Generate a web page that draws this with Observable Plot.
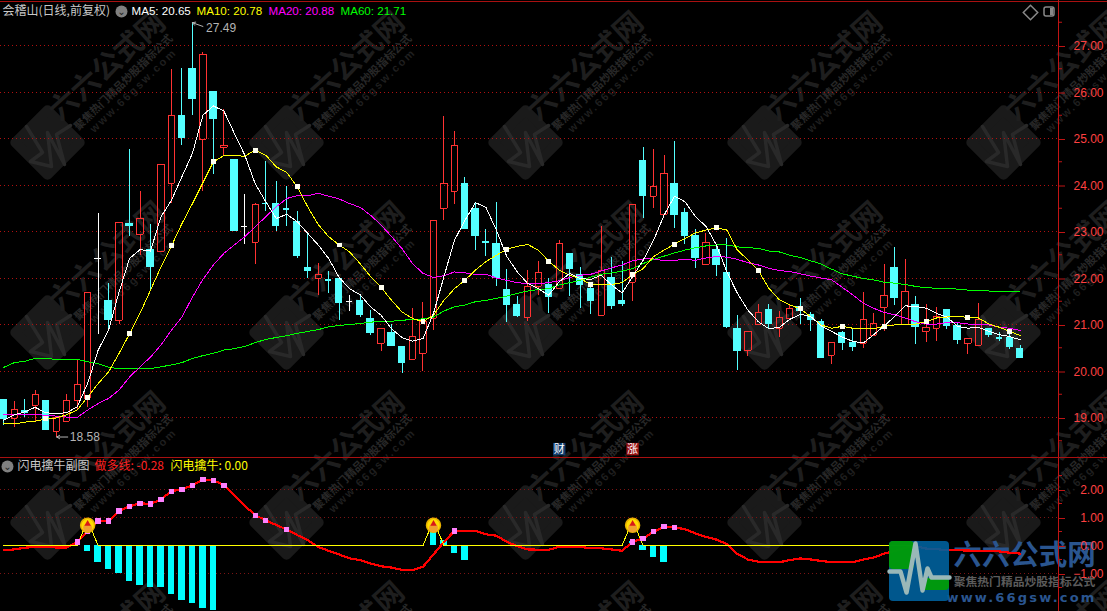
<!DOCTYPE html>
<html>
<head>
<meta charset="utf-8">
<script src="https://cdn.jsdelivr.net/npm/d3@7"></script>
<script src="https://cdn.jsdelivr.net/npm/@observablehq/plot@0.6"></script>
<style>
html,body{margin:0;padding:0;background:#000;overflow:hidden}
#chart{position:relative;width:1107px;height:611px;background:#000}
#chart svg{position:absolute;left:0;background:transparent}
.spaced{letter-spacing:2.2px}
</style>
</head>
<body>
<div id="chart"></div>
<script>
const open = [19.37,18.97,19.14,19.25,19.35,18.69,18.91,19.37,19.41,22.42,21.50,21.08,23.16,22.93,22.61,22.56,24.03,25.48,26.49,24.98,26.00,24.81,24.53,23.11,22.76,23.61,23.59,23.49,23.20,22.21,21.98,21.97,21.97,21.50,21.50,21.11,20.59,20.81,20.51,20.24,20.37,21.12,23.49,23.87,24.02,23.48,22.78,22.73,21.74,21.42,21.14,21.82,21.85,21.78,22.51,22.06,21.76,21.19,22.00,21.50,21.90,24.51,23.75,23.36,24.02,23.39,22.91,22.30,22.60,22.11,20.91,20.44,20.99,21.31,20.91,21.12,21.38,21.21,21.06,20.34,20.81,20.61,20.60,20.76,21.36,22.21,20.99,21.42,20.85,20.92,21.31,20.97,20.60,20.55,20.90,20.72,20.71,20.48];
const close = [18.96,19.17,19.09,19.49,18.73,18.99,19.37,19.71,21.69,22.42,21.09,23.19,23.11,23.28,22.24,24.44,25.49,25.01,25.85,26.81,25.42,24.85,23.01,23.11,23.58,23.60,23.11,23.48,22.48,22.15,22.08,21.96,21.47,21.50,21.20,20.81,20.91,20.53,20.17,20.74,21.06,23.24,24.03,24.85,23.05,22.90,22.77,21.99,21.42,21.18,21.82,22.12,21.59,22.74,22.19,21.85,21.50,22.17,21.39,21.44,23.58,23.76,23.97,24.25,23.35,22.90,22.43,22.76,22.28,20.95,20.44,20.84,21.26,21.01,21.14,21.35,21.30,21.10,20.29,20.62,20.61,20.51,21.11,21.03,21.63,21.56,21.71,20.94,20.94,21.17,20.97,20.66,20.69,21.11,20.78,20.71,20.51,20.29];
const high = [19.39,19.34,19.39,19.57,19.35,19.02,19.50,20.24,21.69,23.39,21.88,23.19,24.77,23.87,23.16,24.44,26.49,26.51,27.49,26.86,26.00,25.63,24.55,23.80,23.60,24.51,24.08,23.97,23.42,22.97,22.31,22.13,22.00,21.63,21.61,21.31,20.91,20.99,20.53,21.34,21.48,23.24,25.48,25.16,24.16,23.60,23.05,23.63,22.19,21.60,22.17,22.36,22.00,22.81,22.51,22.23,21.85,23.11,22.45,22.36,23.58,24.81,24.77,24.64,24.94,23.50,23.04,22.96,22.72,22.84,21.19,20.84,21.42,21.42,21.28,21.44,21.55,21.26,21.10,20.62,20.86,20.92,21.69,21.24,22.28,22.66,22.39,21.61,21.42,21.36,21.31,21.03,20.69,21.46,20.92,20.83,20.78,20.54];
const low = [18.82,18.78,19.01,18.89,18.73,18.58,18.91,19.16,19.21,20.79,20.88,21.01,22.89,22.49,21.72,22.55,23.60,24.86,25.50,23.87,24.22,24.64,23.00,22.71,22.28,23.43,23.01,23.10,22.41,21.99,21.62,21.67,21.09,21.29,21.16,20.77,20.41,20.52,19.94,20.24,20.00,20.88,23.24,23.57,23.05,22.60,22.47,21.82,21.04,21.14,21.07,21.63,21.23,21.78,21.61,21.35,21.22,21.19,21.33,21.39,21.50,23.29,23.50,23.36,23.07,22.71,22.21,22.30,22.04,20.91,20.01,20.31,20.99,20.92,20.72,21.12,21.01,20.84,20.27,20.14,20.44,20.42,20.49,20.76,20.85,21.40,20.99,20.56,20.61,20.64,20.90,20.57,20.35,20.55,20.71,20.64,20.46,20.26];

const ma5 = [18.94,19.06,19.12,19.22,19.10,19.09,19.10,19.23,19.73,20.45,20.88,21.70,22.42,22.61,22.58,23.32,23.67,24.18,24.68,25.50,25.70,25.59,25.11,24.64,24.02,23.64,23.28,23.37,23.21,22.96,22.71,22.42,22.01,21.77,21.64,21.38,21.20,20.91,20.72,20.64,20.70,21.24,22.03,22.81,23.24,23.62,23.52,23.03,22.46,22.13,21.88,21.77,21.63,21.92,22.10,21.99,21.97,22.06,21.85,21.68,22.03,22.38,22.81,23.35,23.76,23.64,23.32,23.11,22.71,22.13,21.67,21.31,21.06,20.91,20.94,21.11,21.22,21.17,20.97,20.85,20.73,20.64,20.60,20.78,20.97,21.17,21.40,21.39,21.35,21.24,21.16,20.96,20.92,20.94,20.85,20.78,20.74,20.67];
const ma10 = [18.87,18.86,18.90,18.92,18.97,18.99,19.06,19.16,19.44,19.73,19.98,20.38,20.80,21.24,21.74,22.24,22.69,23.17,23.60,24.05,24.50,24.63,24.63,24.62,24.75,24.64,24.39,24.27,23.96,23.53,23.15,22.89,22.71,22.56,22.31,22.03,21.80,21.52,21.27,21.13,21.06,21.20,21.52,21.77,21.95,22.17,22.35,22.49,22.62,22.68,22.72,22.60,22.36,22.17,22.06,21.99,21.86,21.86,21.86,21.90,22.07,22.20,22.46,22.60,22.73,22.85,22.97,23.03,23.08,23.03,22.60,22.39,22.16,21.78,21.53,21.42,21.34,21.17,20.99,20.92,20.96,20.92,20.91,20.91,20.96,20.99,21.01,21.01,21.06,21.14,21.16,21.18,21.15,21.14,21.01,20.94,20.85,20.76];
const ma20 = [19.07,19.07,19.06,19.06,19.05,19.03,19.01,19.00,19.16,19.30,19.41,19.59,19.87,20.09,20.30,20.56,20.88,21.16,21.59,21.97,22.28,22.53,22.71,22.89,23.10,23.32,23.53,23.71,23.77,23.77,23.82,23.76,23.70,23.60,23.52,23.35,23.14,22.89,22.63,22.31,22.10,22.01,22.05,22.13,22.11,22.08,22.08,22.00,21.95,21.90,21.88,21.88,21.90,21.94,22.01,22.06,22.08,22.15,22.22,22.28,22.37,22.41,22.41,22.37,22.38,22.40,22.38,22.43,22.46,22.45,22.40,22.33,22.28,22.21,22.16,22.14,22.09,22.04,22.00,21.96,21.80,21.64,21.46,21.35,21.26,21.21,21.14,21.06,21.01,21.01,21.04,21.04,21.01,21.01,20.99,20.94,20.92,20.87];
const ma60 = [20.08,20.18,20.21,20.27,20.27,20.25,20.25,20.25,20.20,20.16,20.08,20.05,20.05,20.05,20.05,20.09,20.13,20.18,20.27,20.33,20.38,20.45,20.48,20.53,20.61,20.68,20.72,20.76,20.81,20.85,20.89,20.95,20.98,21.00,21.02,21.05,21.07,21.07,21.09,21.11,21.12,21.16,21.29,21.38,21.42,21.49,21.52,21.56,21.61,21.67,21.72,21.75,21.77,21.85,21.90,21.95,22.02,22.08,22.11,22.15,22.20,22.31,22.40,22.47,22.54,22.60,22.65,22.69,22.71,22.71,22.67,22.65,22.64,22.58,22.56,22.49,22.44,22.37,22.30,22.19,22.09,22.04,21.99,21.96,21.91,21.89,21.86,21.82,21.79,21.78,21.78,21.76,21.74,21.74,21.72,21.72,21.72,21.72];

const longLine = [-0.17,-0.14,-0.08,-0.05,-0.05,-0.07,-0.07,0.13,0.52,0.87,0.87,1.23,1.40,1.51,1.48,1.65,1.94,2.01,2.15,2.36,2.33,2.15,1.80,1.42,1.08,0.90,0.73,0.57,0.37,0.19,-0.05,-0.19,-0.32,-0.46,-0.52,-0.64,-0.74,-0.79,-0.87,-0.88,-0.76,-0.32,0.13,0.52,0.52,0.52,0.40,0.35,0.13,-0.02,-0.14,-0.15,-0.15,-0.05,-0.05,-0.05,-0.10,-0.10,-0.14,-0.19,0.13,0.25,0.49,0.67,0.65,0.58,0.43,0.31,0.21,0.05,-0.30,-0.50,-0.58,-0.60,-0.60,-0.52,-0.46,-0.50,-0.55,-0.60,-0.60,-0.60,-0.50,-0.43,-0.29,-0.20,-0.08,-0.02,-0.11,-0.13,-0.17,-0.17,-0.18,-0.19,-0.19,-0.21,-0.26,-0.29];
const markerDays = [7,8,9,10,11,12,13,14,15,16,17,18,19,20,21,24,25,27,43,60,61,62,63,64];
const barDays = [8,9,10,11,12,13,14,15,16,17,18,19,20,41,42,43,44,60,61,62,63];
const barValues = [-0.23,-0.62,-0.87,-0.99,-1.27,-1.42,-1.49,-1.49,-1.74,-1.95,-2.06,-2.24,-2.31,0.49,0.19,-0.27,-0.55,0.15,-0.17,-0.42,-0.60];
const signalDays = [8,41,60];
const signalPeak = 0.90;
const coinLevel = 0.72;
const signalLastDay = 87;

const priceTicks = [19,20,21,22,23,24,25,26,27];
const priceHalfTicks = [18.5,19.5,20.5,21.5,22.5,23.5,24.5,25.5,26.5,27.5];
const subTicks = [-1,0,1,2];
const subGrid = [-1,1,2];
const subHalfTicks = [-1.5,-0.5,0.5,1.5,2.5];

const CYAN = "#54ffff", RED = "#ff3232";
const LATIN = "Liberation Sans", CJK = "Noto Sans CJK SC";
const AXIS = "#c01414", LABEL = "#ff4040", GRID = "#b01010", GRID2 = "#7a1414";

const days = d3.range(open.length);
const candles = days.map(i => ({
  i, open: open[i], close: close[i], high: high[i], low: low[i],
  top: Math.max(open[i], close[i]), bottom: Math.min(open[i], close[i]),
  colour: close[i] > open[i] ? RED : close[i] < open[i] ? CYAN : "#ffffff"
}));
const solid = candles.filter(d => d.top - d.bottom >= 0.03);
const flat = candles.filter(d => d.top - d.bottom < 0.03);
const up = solid.filter(d => d.close > d.open);
const down = solid.filter(d => d.close < d.open);

const xDomain = [-0.315, 100.64];
const xOpts = {domain: xDomain, range: [0, 1058], axis: null};
const crisp = {shapeRendering: "crispEdges"};
const halfBody = 0.3;
const lineOf = (values, stroke) => Plot.line(days, {x: d => d, y: d => values[d], stroke, strokeWidth: 1, ...crisp});

const chart = document.getElementById("chart");
function add(svg, top) { svg.style.top = top + "px"; chart.appendChild(svg); }

/* ---------- page layer: watermark grid and separators ---------- */
const pageScale = {
  width: 1107, height: 611, margin: 0,
  x: {domain: [0, 1107], range: [0, 1107], axis: null},
  y: {domain: [0, 611], range: [0, 611], axis: null}
};
const stampX = [47, 286, 525, 764, 1003];
const stampY = [142, 332, 522, 712];
const stamps = stampX.flatMap(x => stampY.map(y => ({x, y})));
const pulse = [[-21,-16],[-5,10],[-17,19],[4,24],[0,-10],[17,22],[9,-8],[23,-17]];
const pulseMarks = stamps.map(s => Plot.line(pulse, {
  x: p => s.x + p[0], y: p => s.y + p[1], stroke: "#292929", strokeWidth: 3.5
}));

add(Plot.plot({
  ...pageScale,
  marks: [
    Plot.dot(stamps, {x: "x", y: "y", symbol: "diamond2", r: 29, fill: "#1a1a1a", stroke: "#1a1a1a", strokeWidth: 10, strokeLinejoin: "round"}),
    ...pulseMarks,
    Plot.text(stamps, {x: d => d.x + 60, y: d => d.y - 76, text: () => "六六公式网", rotate: -42, fontSize: 29, fontFamily: CJK, fontWeight: 700, fill: "#1e1e1e"}),
    Plot.text(stamps, {x: d => d.x + 76, y: d => d.y - 60, text: () => "聚焦热门精品炒股指标公式", rotate: -44, fontSize: 11, fontFamily: CJK, fontWeight: 700, fill: "#282828"}),
    Plot.text(stamps, {x: d => d.x + 86, y: d => d.y - 52, text: () => "www.66gsw.com", rotate: -44, fontSize: 11, fontFamily: LATIN, fontWeight: 700, fill: "#1f1f1f", className: "spaced"}),
    Plot.text(["六六公式网"], {x: 1024, y: 555, text: d => d, fontSize: 28.5, fontFamily: CJK, fontWeight: 700, fill: "#2a558f"}),
    Plot.text(["聚焦热门精品炒股指标公式"], {x: 1024, y: 582, text: d => d, fontSize: 11.8, fontFamily: CJK, fontWeight: 700, fill: "#5c5c5c"}),
    Plot.text(["www.66gsw.com"], {x: 1021, y: 597, text: d => d, fontSize: 13, fontFamily: "DejaVu Sans", fontWeight: 700, fill: "#2a558f", className: "spaced"}),
    Plot.ruleY([1, 457], {stroke: "#a81010", ...crisp})
  ]
}), 0);

/* ---------- price pane ---------- */
const bodyLeft = d => d.i - halfBody, bodyRight = d => d.i + halfBody;
add(Plot.plot({
  width: 1107, height: 457, marginTop: 0, marginLeft: 0, marginBottom: 0, marginRight: 49,
  x: xOpts,
  y: {domain: [27 - 412 / 46.5, 27 + 45 / 46.5], range: [457, 0]},
  marks: [
    Plot.ruleY(priceTicks, {x1: xDomain[0], x2: xDomain[1], stroke: GRID, strokeDasharray: "1 3", ...crisp}),
    Plot.ruleX([xDomain[1]], {stroke: AXIS, ...crisp}),
    Plot.axisY(priceHalfTicks, {anchor: "right", tickSize: 3, fill: "none", stroke: AXIS}),
    Plot.axisY(priceTicks, {anchor: "right", tickSize: 6, tickPadding: 39, textAnchor: "end", dy: 1, tickFormat: d3.format(".2f"), stroke: AXIS, fill: LABEL, fontSize: 12, fontFamily: LATIN, fontVariant: "normal"}),
    Plot.ruleX(candles, {x: "i", y1: "top", y2: "high", stroke: "colour", ...crisp}),
    Plot.ruleX(candles, {x: "i", y1: "bottom", y2: "low", stroke: "colour", ...crisp}),
    Plot.rect(down, {x1: bodyLeft, x2: bodyRight, y1: "bottom", y2: "top", fill: CYAN, stroke: CYAN, ...crisp}),
    Plot.ruleX(up, {x: bodyLeft, y1: "bottom", y2: "top", stroke: RED, ...crisp}),
    Plot.ruleX(up, {x: bodyRight, y1: "bottom", y2: "top", stroke: RED, ...crisp}),
    Plot.ruleY(up, {y: "top", x1: bodyLeft, x2: bodyRight, stroke: RED, ...crisp}),
    Plot.ruleY(up, {y: "bottom", x1: bodyLeft, x2: bodyRight, stroke: RED, ...crisp}),
    Plot.ruleY(flat, {y: "close", x1: bodyLeft, x2: bodyRight, stroke: "colour", strokeWidth: 1.5, ...crisp}),
    lineOf(ma60, "#00ff00"),
    lineOf(ma20, "#ff00ff"),
    lineOf(ma10, "#ffff00"),
    lineOf(ma5, "#ffffff"),
    Plot.dot(days.filter(d => d > 0 && d % 4 === 0), {x: d => d, y: d => ma10[d], symbol: "square", r: 2.8, fill: "#fffff0", ...crisp}),
    Plot.arrow([{x1: 19, y1: 27.41, x2: 18, y2: 27.49}, {x1: 6.1, y1: 18.58, x2: 5.05, y2: 18.58}], {x1: "x1", y1: "y1", x2: "x2", y2: "y2", stroke: "#b4b4b4", strokeWidth: 1, headLength: 5}),
    Plot.text([{x: 19.3, y: 27.38, t: "27.49"}, {x: 6.3, y: 18.58, t: "18.58"}], {x: "x", y: "y", text: "t", textAnchor: "start", fontSize: 12, fontFamily: LATIN, fill: "#b4b4b4"}),
    Plot.dot([{x: 53, t: "财", c: "#123f6f"}, {x: 60, t: "涨", c: "#9a1414"}], {x: "x", y: 18.32, symbol: "square", r: 7, fill: "c"}),
    Plot.text([{x: 53, t: "财"}, {x: 60, t: "涨"}], {x: "x", y: 18.32, text: "t", fontSize: 11, fontFamily: CJK, fill: "#fff"})
  ]
}), 0);

/* ---------- indicator pane ---------- */
const signalLine = d3.range(signalLastDay + 1);
add(Plot.plot({
  width: 1107, height: 153, marginTop: 0, marginLeft: 0, marginBottom: 0, marginRight: 49,
  x: xOpts,
  y: {domain: [-66 / 28, 87 / 28], range: [153, 0]},
  marks: [
    Plot.ruleY(subGrid, {x1: xDomain[0], x2: xDomain[1], stroke: GRID2, strokeDasharray: "1 3", ...crisp}),
    Plot.ruleX([xDomain[1]], {stroke: AXIS, ...crisp}),
    Plot.axisY(subHalfTicks, {anchor: "right", tickSize: 3, fill: "none", stroke: AXIS}),
    Plot.axisY(subTicks, {anchor: "right", tickSize: 6, tickPadding: 39, textAnchor: "end", dy: 1, tickFormat: d3.format(".2f"), stroke: AXIS, fill: LABEL, fontSize: 12, fontFamily: LATIN, fontVariant: "normal"}),
    Plot.rect(barDays, {x1: d => d - halfBody, x2: d => d + halfBody, y1: 0, y2: (d, i) => barValues[i], fill: "#00ffff", ...crisp}),
    Plot.line(days, {x: d => d, y: d => longLine[d], stroke: "#ff0000", strokeWidth: 2.2, ...crisp}),
    Plot.line(signalLine, {x: d => d, y: d => signalDays.includes(d) ? signalPeak : 0, stroke: "#ffff00", strokeWidth: 1, ...crisp}),
    Plot.dot(markerDays, {x: d => d, y: d => longLine[d], symbol: "square", r: 3, fill: "#ff80ff", ...crisp}),
    Plot.dot(signalDays, {x: d => d, y: coinLevel, r: 7, fill: "#ffdc00", stroke: "#e8b000"}),
    Plot.dot(signalDays, {x: d => d, y: coinLevel, dy: 2.5, r: 4.5, fill: "#f0a030"}),
    Plot.dot(signalDays, {x: d => d, y: coinLevel, dy: -1.5, symbol: "triangle", r: 2.4, fill: "#d81818"})
  ]
}), 458);

/* ---------- top layer: header legends, icons, logo tile ---------- */
const cjkHead = [
  {x: 2, y: 11, t: "会稽山(日线,前复权)", c: "#c8c8c8"},
  {x: 17, y: 466, t: "闪电擒牛副图", c: "#c8c8c8"},
  {x: 94, y: 466, t: "做多线: -0.28", c: "#ff2020"},
  {x: 170, y: 466, t: "闪电擒牛: 0.00", c: "#ffff00"}
];
const latinHead = [
  {x: 131, y: 11, t: "MA5: 20.65", c: "#ffffff"},
  {x: 196, y: 11, t: "MA10: 20.78", c: "#ffff00"},
  {x: 268, y: 11, t: "MA20: 20.88", c: "#ff00ff"},
  {x: 340, y: 11, t: "MA60: 21.71", c: "#00ff00"}
];
const logoPanels = [
  {x1: 889, x2: 949, y1: 541, y2: 601, c: "#00609c"},
  {x1: 889, x2: 914, y1: 541, y2: 569, c: "#00a000"},
  {x1: 921, x2: 949, y1: 578, y2: 590, c: "#00a000"}
];
const logoPulse = [[889,571],[900,571],[906,592],[915,543],[922,590],[927,568],[931,577],[949,577]];
add(Plot.plot({
  ...pageScale,
  marks: [
    Plot.rect(logoPanels, {x1: "x1", x2: "x2", y1: "y1", y2: "y2", fill: "c", rx: 4, fillOpacity: 0.9}),
    Plot.line(logoPulse, {x: "0", y: "1", stroke: "#9ab8b8", strokeWidth: 4.5}),
    Plot.dot([{x: 121, y: 11}, {x: 7, y: 466}], {x: "x", y: "y", r: 6, fill: "#808080"}),
    Plot.text([{x: 121, y: 11}, {x: 7, y: 466}], {x: "x", y: "y", text: () => "⌄", fontSize: 10, fontFamily: "DejaVu Sans", fill: "#222"}),
    Plot.dot([{x: 1030, y: 12}], {x: "x", y: "y", symbol: "diamond2", r: 6.5, fill: "none", stroke: "#888"}),
    Plot.rect([{x1: 1044, x2: 1054, y1: 7, y2: 16}], {x1: "x1", x2: "x2", y1: "y1", y2: "y2", rx: 2, fill: "none", stroke: "#888", strokeWidth: 1.5}),
    Plot.rect([{x1: 1050, x2: 1053, y1: 8, y2: 15}], {x1: "x1", x2: "x2", y1: "y1", y2: "y2", fill: "#888"}),
    Plot.text(cjkHead, {x: "x", y: "y", text: "t", fill: "c", fontFamily: CJK, fontSize: 12, textAnchor: "start"}),
    Plot.text(latinHead, {x: "x", y: "y", text: "t", fill: "c", fontFamily: LATIN, fontSize: 11.6, textAnchor: "start"})
  ]
}), 0);
</script>
</body>
</html>
